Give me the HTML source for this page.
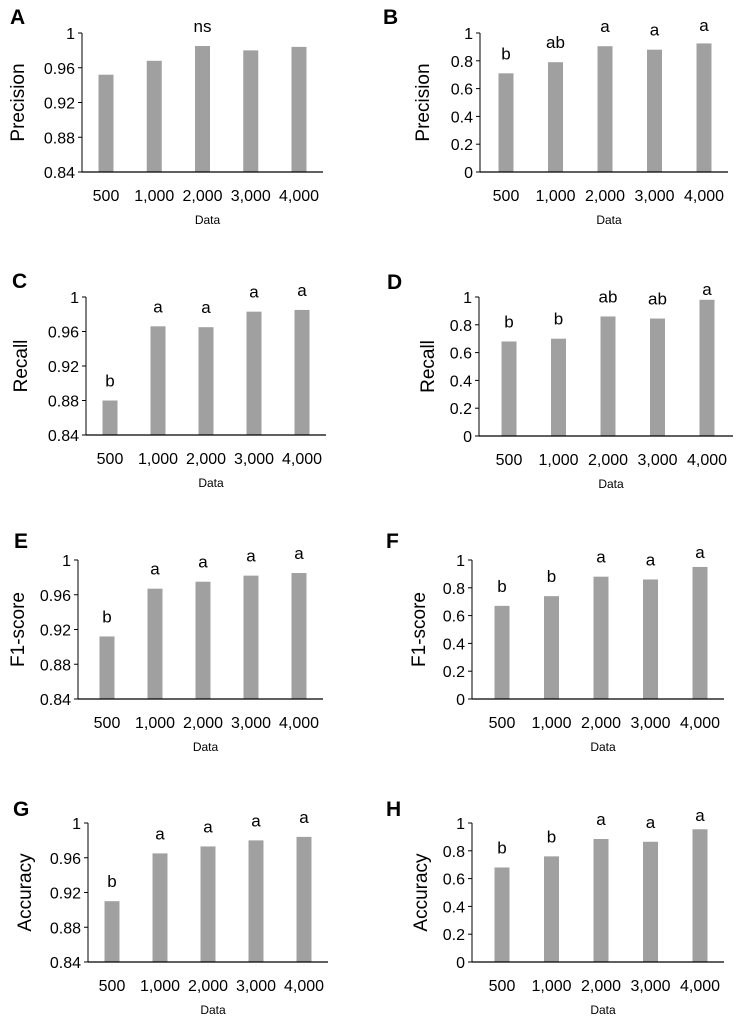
<!DOCTYPE html>
<html><head><meta charset="utf-8">
<style>
html,body{margin:0;padding:0;background:#fff;}
svg{display:block;font-family:"Liberation Sans",sans-serif;}
</style></head>
<body>
<svg id="fig" width="741" height="1023" viewBox="0 0 741 1023"></svg>
<script>
const categories = ["500","1,000","2,000","3,000","4,000"];
const precisionA = [0.952,0.968,0.985,0.980,0.984];
const precisionB = [0.71,0.79,0.905,0.88,0.925];
const recallC = [0.880,0.966,0.965,0.983,0.985];
const recallD = [0.68,0.70,0.86,0.845,0.98];
const f1E = [0.912,0.967,0.975,0.982,0.985];
const f1F = [0.67,0.74,0.88,0.86,0.95];
const accuracyG = [0.910,0.965,0.973,0.980,0.984];
const accuracyH = [0.68,0.76,0.885,0.865,0.955];
const lettersA = ["","","ns","",""];
const lettersB = ["b","ab","a","a","a"];
const lettersC = ["b","a","a","a","a"];
const lettersD = ["b","b","ab","ab","a"];
const lettersE = ["b","a","a","a","a"];
const lettersF = ["b","b","a","a","a"];
const lettersG = ["b","a","a","a","a"];
const lettersH = ["b","b","a","a","a"];
const zoomTicks = ["0.84","0.88","0.92","0.96","1"];
const fullTicks = ["0","0.2","0.4","0.6","0.8","1"];

const panels = [
 {id:"A",title:"Precision",vals:precisionA,lets:lettersA,ticks:zoomTicks,min:0.84,max:1,ax:82,top:33,bot:172,right:323,x0:106,dx:48.25,ly:-65,lx:10,lyy:24},
 {id:"B",title:"Precision",vals:precisionB,lets:lettersB,ticks:fullTicks,min:0,max:1,ax:480,top:33,bot:172,right:728,x0:506,dx:49.5,ly:-58,lx:383,lyy:24},
 {id:"C",title:"Recall",vals:recallC,lets:lettersC,ticks:zoomTicks,min:0.84,max:1,ax:86,top:297,bot:435,right:326,x0:110,dx:48,ly:-66,lx:12,lyy:288},
 {id:"D",title:"Recall",vals:recallD,lets:lettersD,ticks:fullTicks,min:0,max:1,ax:479,top:297,bot:436,right:733,x0:509,dx:49.5,ly:-52,lx:387,lyy:289},
 {id:"E",title:"F1-score",vals:f1E,lets:lettersE,ticks:zoomTicks,min:0.84,max:1,ax:78,top:560,bot:699,right:323,x0:107,dx:48,ly:-61,lx:14,lyy:548},
 {id:"F",title:"F1-score",vals:f1F,lets:lettersF,ticks:fullTicks,min:0,max:1,ax:472,top:560,bot:699,right:724,x0:502,dx:49.5,ly:-54,lx:386,lyy:548},
 {id:"G",title:"Accuracy",vals:accuracyG,lets:lettersG,ticks:zoomTicks,min:0.84,max:1,ax:88,top:823,bot:962,right:328,x0:112,dx:48,ly:-64,lx:13,lyy:816},
 {id:"H",title:"Accuracy",vals:accuracyH,lets:lettersH,ticks:fullTicks,min:0,max:1,ax:472,top:823,bot:962,right:724,x0:502,dx:49.5,ly:-52,lx:386,lyy:816}
];
const NS="http://www.w3.org/2000/svg";
const svg=document.getElementById("fig");
function mk(tag,attrs,parent,txt){const e=document.createElementNS(NS,tag);for(const k in attrs)e.setAttribute(k,attrs[k]);if(txt!==undefined)e.textContent=txt;parent.appendChild(e);return e;}

panels.forEach(p=>{
  const g=mk("g",{},svg);
  
  
  const y=v=>p.bot-(v-p.min)/(p.max-p.min)*(p.bot-p.top);
  const x=i=>p.x0+i*p.dx;
  const pl=mk("text",{x:p.lx,y:p.lyy,"font-size":"21","font-weight":"bold",fill:"#000"},g,p.id);
  
  
  p.vals.forEach((v,i)=>{
    const r=mk("rect",{x:x(i)-7.5,y:y(v),width:15,height:p.bot-y(v),fill:"#a0a0a0"},g);
    
    
    if(p.lets[i]){
      const ty=Math.max(p.top-2,y(v)-14);
      const t=mk("text",{x:x(i),y:ty,"font-size":"17","text-anchor":"middle",fill:"#000"},g,p.lets[i]);
      
      
    }
    const xl=mk("text",{x:x(i),y:p.bot+29,"font-size":"16","text-anchor":"middle",fill:"#000"},g,categories[i]);
    
    
  });
  const ya=mk("line",{x1:p.ax,y1:p.top,x2:p.ax,y2:p.bot,stroke:"#000","stroke-width":"1"},g);
  
  
  const xa=mk("line",{x1:p.ax,y1:p.bot,x2:p.right,y2:p.bot,stroke:"#000","stroke-width":"1.3"},g);
  
  
  p.ticks.forEach(t=>{
    const v=parseFloat(t), ty=y(v);
    mk("line",{x1:p.ax-4,y1:ty,x2:p.ax,y2:ty,stroke:"#000","stroke-width":"1"},g);
    const tl=mk("text",{x:p.ax-7,y:ty+6,"font-size":"16","text-anchor":"end",fill:"#000"},g,t);
    
    
  });
  const cy=(p.top+p.bot)/2, cx=p.ax+p.ly;
  const yt=mk("text",{x:cx,y:cy,"font-size":"19","text-anchor":"middle",transform:`rotate(-90 ${cx} ${cy})`,dy:"7",fill:"#000"},g,p.title);
  
  
  const xt=mk("text",{x:(p.ax+p.right)/2+5,y:p.bot+52,"font-size":"12","text-anchor":"middle",fill:"#000"},g,"Data");
  
  
});
</script>
</body></html>
